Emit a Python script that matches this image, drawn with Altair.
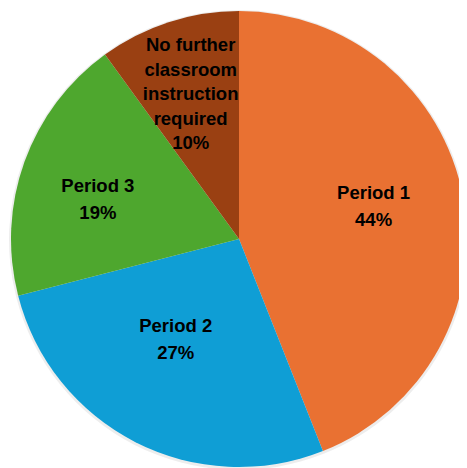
import altair as alt
import pandas as pd

categories = ["Period 1", "Period 2", "Period 3", "No further\nclassroom\ninstruction\nrequired"]
values = [44, 27, 19, 10]
colors = ["#E97132", "#0F9ED5", "#4EA72E", "#9A4012"]

df = pd.DataFrame({
    "cat": categories,
    "value": values,
    "idx": list(range(len(categories))),
})
df["label"] = df["cat"] + "\n" + df["value"].astype(str) + "%"

cx, cy, R = 231, 231, 228
total = sum(values)

color_scale = alt.Scale(domain=categories, range=colors)

shadow = alt.Chart(df).mark_arc(radius=R + 2, color="#000000", opacity=0.07).encode(
    theta=alt.Theta("value:Q", stack=True),
    order=alt.Order("idx:Q"),
    x=alt.value(cx), y=alt.value(cy + 1),
)

pie = alt.Chart(df).mark_arc(radius=R).encode(
    theta=alt.Theta("value:Q", stack=True),
    order=alt.Order("idx:Q", sort="ascending"),
    color=alt.Color("cat:N", scale=color_scale, legend=None),
    x=alt.value(cx), y=alt.value(cy),
)

# per-slice label placement (radius, dx, dy, lineHeight)
label_style = {
    0: (137, 0, -20, 27),
    1: (113, -12, -14, 27),
    2: (150, 0, -2, 27),
    3: (150, -2, -51, 24.5),
}

texts = []
for i, (r, ddx, ddy, lh) in label_style.items():
    t = alt.Chart(df).transform_window(
        cum="sum(value)", sort=[alt.SortField("idx")]
    ).transform_calculate(
        mid="datum.cum - datum.value / 2"
    ).transform_filter(alt.datum.idx == i).mark_text(
        radius=r, dx=ddx, dy=ddy, font="Liberation Sans", fontWeight="bold", fontSize=18.5,
        lineBreak="\n", lineHeight=lh, color="#000000", align="center", baseline="middle",
    ).encode(
        theta=alt.Theta("mid:Q", scale=alt.Scale(domain=[0, total], range=[0, 6.283185307179586])),
        text="label:N", x=alt.value(cx), y=alt.value(cy),
    )
    texts.append(t)

chart = alt.layer(shadow, pie, *texts).resolve_scale(theta="independent").properties(
    width=451, height=460, autosize=alt.AutoSizeParams(type="none"), padding=0,
).configure_view(stroke=None)

chart.save("out.html", embed_options={"renderer": "svg", "actions": False})
